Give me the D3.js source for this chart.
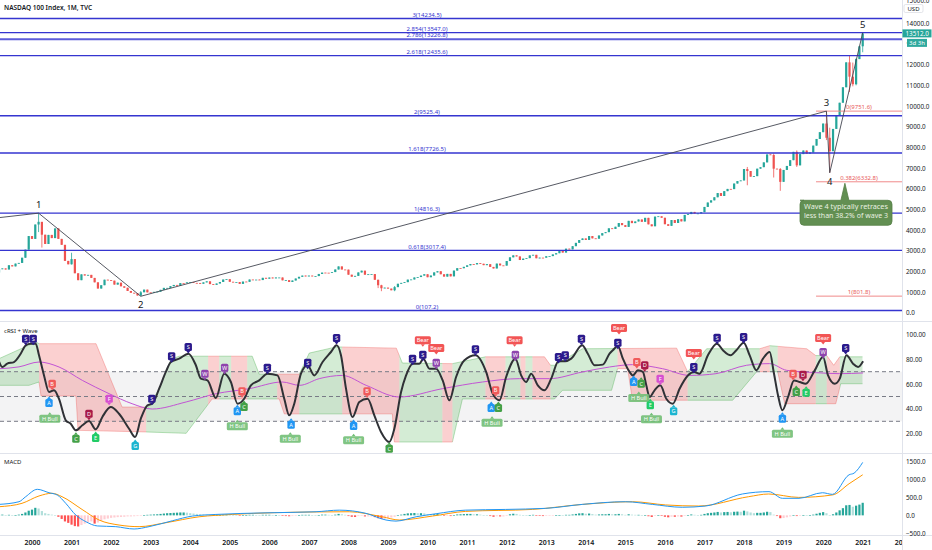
<!DOCTYPE html>
<html>
<head>
<meta charset="utf-8">
<script src="https://cdn.jsdelivr.net/npm/d3@7"></script>
<style>
  body { margin: 0; background: #fff; }
  svg { display: block; }
  text { font-family: "Noto Sans", sans-serif; }
</style>
</head>
<body>
<svg id="chart" width="932" height="550"></svg>
<script>
// monthly closes, Jan 1999 .. Jan 2021
const startYear = 1999;
const monthlyCloses = [
  2127, 1945, 2106, 2141, 2090, 2296, 2241, 2375, 2408, 2659, 3050, 3708,
  3570, 4266, 4397, 3773, 3324, 3763, 3609, 4077, 3571, 3283, 2506, 2341,
  2593, 1908, 1573, 1855, 1800, 1830, 1683, 1469, 1168, 1330, 1596, 1577,
  1550, 1359, 1452, 1277, 1208, 1051, 963, 942, 832, 989, 1116, 984,
  977, 1008, 1018, 1106, 1201, 1201, 1284, 1343, 1304, 1431, 1430, 1468,
  1476, 1442, 1438, 1400, 1467, 1517, 1383, 1347, 1412, 1486, 1605, 1621,
  1495, 1483, 1483, 1394, 1505, 1493, 1605, 1600, 1601, 1579, 1687, 1645,
  1701, 1661, 1703, 1703, 1566, 1575, 1487, 1557, 1654, 1736, 1795, 1756,
  1794, 1760, 1772, 1874, 1939, 1934, 1933, 1965, 2091, 2239, 2089, 2084,
  1838, 1742, 1781, 1948, 2033, 1838, 1860, 1869, 1592, 1329, 1183, 1212,
  1166, 1085, 1237, 1400, 1442, 1477, 1600, 1608, 1704, 1725, 1795, 1860,
  1716, 1798, 1950, 2006, 1860, 1746, 1877, 1758, 2037, 2154, 2151, 2218,
  2291, 2354, 2338, 2402, 2367, 2300, 2348, 2214, 2140, 2375, 2287, 2278,
  2500, 2679, 2774, 2722, 2549, 2616, 2640, 2772, 2800, 2634, 2663, 2661,
  2731, 2738, 2819, 2878, 2987, 2909, 3097, 3066, 3218, 3378, 3516, 3592,
  3521, 3708, 3596, 3580, 3736, 3849, 3896, 4082, 4049, 4158, 4337, 4236,
  4151, 4443, 4334, 4414, 4509, 4397, 4589, 4274, 4181, 4648, 4664, 4593,
  4280, 4202, 4483, 4341, 4523, 4418, 4730, 4771, 4875, 4801, 4803, 4864,
  5116, 5330, 5436, 5584, 5788, 5647, 5880, 5988, 5979, 6248, 6367, 6397,
  6950, 6854, 6581, 6606, 6967, 7040, 7272, 7656, 7628, 6967, 6949, 6330,
  6906, 7099, 7378, 7781, 7128, 7672, 7846, 7692, 7750, 8083, 8404, 8733,
  9150, 8462, 7813, 8890, 9555, 10157, 10906, 12111, 11418, 11052, 12268, 12888,
  13512
];

// months where a wick is visible
const wickMonths = ["2000-03", "2000-04", "2001-01", "2002-10", "2008-10", "2008-11", "2009-03",
  "2018-02", "2018-10", "2018-12", "2019-05", "2020-02", "2020-03", "2020-09", "2020-10", "2020-11", "2021-01"];
const wickHighs = [4816, 4300, 2900, 1050, 1600, 1350, 1290, 7050, 7700, 7000, 7850, 9736, 8950, 12466, 12100, 12300, 13540];
const wickLows  = [3900, 3150, 2330, 795, 1190, 1040, 1040, 6165, 6540, 5895, 7050, 8350, 6771, 10677, 10950, 11000, 12600];

const fibRatios = [3, 2.854, 2.786, 2.618, 2, 1.618, 1, 0.618, 0];
const fibPrices = [14234.5, 13547.0, 13226.8, 12435.6, 9525.4, 7726.5, 4816.3, 3017.4, 107.2];

const retraceRatios = [0, 0.382, 1];
const retracePrices = [9751.6, 6332.8, 801.8];
const retraceStart = 2019.82;

const waveTimes  = [1998.9, 2000.167, 2002.75, 2020.083, 2020.167, 2021.0];
const waveValues = [4540, 4816, 795, 9751.6, 6771, 13540];
const waveNames  = ["", "1", "2", "3", "4", "5"];

const priceTicks = d3.range(0, 16000, 1000);
const yearTicks = d3.range(2000, 2023);

// cRSI line [decimal year, value]
const crsi = [
  [1999.165, 78.4], [1999.248, 73.8], [1999.375, 76.5], [1999.545, 77.8], [1999.714, 84.5], [1999.841, 91.3],
  [1999.967, 92.6], [2000.094, 92.6], [2000.177, 83.2], [2000.304, 67], [2000.43, 53.6], [2000.557, 55],
  [2000.683, 48], [2000.853, 30.8], [2000.979, 28], [2001.106, 22.7], [2001.273, 26.8], [2001.442, 30.2],
  [2001.612, 23.5], [2001.779, 33.5], [2001.991, 41.5], [2002.201, 36.1], [2002.454, 24], [2002.606, 17.3],
  [2002.751, 32.1], [2002.918, 42.9], [2003.044, 44.2], [2003.214, 56.3], [2003.383, 69.8], [2003.51, 77.8],
  [2003.72, 80.5], [2003.955, 84.5], [2004.142, 75.2], [2004.269, 64.4], [2004.436, 63], [2004.648, 48.8],
  [2004.858, 68.4], [2005.028, 61.7], [2005.195, 44.2], [2005.364, 48.2], [2005.534, 59], [2005.744, 63],
  [2005.954, 68.4], [2006.207, 67], [2006.377, 48.2], [2006.503, 34.8], [2006.63, 44.2], [2006.799, 68.4],
  [2006.966, 75.2], [2007.136, 67], [2007.346, 77.8], [2007.558, 85.9], [2007.7, 91.3], [2007.811, 83.2],
  [2007.938, 56.3], [2008.105, 33.5], [2008.274, 45.6], [2008.484, 48.2], [2008.654, 34.8], [2008.823, 21.4],
  [2009.033, 13.3], [2009.16, 24], [2009.33, 53.6], [2009.456, 67], [2009.623, 76.5], [2009.792, 76.5],
  [2009.894, 80.5], [2010.046, 72.4], [2010.215, 72.4], [2010.382, 63], [2010.552, 46.9], [2010.721, 65.7],
  [2010.931, 79.2], [2011.21, 83.2], [2011.48, 69.8], [2011.647, 52.3], [2011.817, 46.9], [2011.986, 65.7],
  [2012.222, 80.5], [2012.366, 67], [2012.492, 61.7], [2012.619, 68.4], [2012.786, 59], [2012.955, 55],
  [2013.125, 64.4], [2013.31, 78.4], [2013.479, 78.4], [2013.631, 80.5], [2013.909, 91.3], [2014.051, 84.5],
  [2014.221, 75.2], [2014.431, 75.7], [2014.6, 84.5], [2014.684, 87.3], [2014.81, 90.7], [2014.937, 80.5],
  [2015.106, 69.8], [2015.19, 67], [2015.316, 71.1], [2015.443, 69.8], [2015.529, 59], [2015.613, 49.6],
  [2015.739, 55], [2015.883, 59], [2016.035, 48.2], [2016.202, 44.2], [2016.371, 56.3], [2016.581, 67],
  [2016.733, 69.8], [2016.877, 68.4], [2017.087, 83.2], [2017.315, 92.6], [2017.467, 87.3], [2017.662, 83.2],
  [2017.806, 87.3], [2017.991, 93.4], [2018.143, 83.2], [2018.312, 71.1], [2018.479, 80.5], [2018.649, 85.9],
  [2018.75, 69.8], [2018.859, 51], [2018.97, 38.9], [2019.112, 49.6], [2019.264, 63], [2019.408, 61.7],
  [2019.56, 60.3], [2019.788, 71.1], [2019.998, 81.9], [2020.124, 67], [2020.294, 60.3], [2020.42, 64.4],
  [2020.589, 83.2], [2020.756, 76.5], [2020.883, 73.8], [2021.01, 78.4]
];

// cRSI moving average
const crsiAvg = [
  [1999.165, 72.4], [1999.671, 73.9], [2000.177, 77.8], [2000.683, 73.8], [2001.273, 63], [2001.948, 52.3],
  [2002.53, 44.2], [2003.038, 39.9], [2003.897, 45.6], [2004.657, 52.3], [2005.491, 56.3], [2006.326, 61.7],
  [2006.763, 59], [2007.262, 64.4], [2007.844, 67], [2008.448, 59], [2009.286, 49.6], [2010.374, 56.3],
  [2011.387, 61.7], [2012.323, 64.4], [2013.083, 64.4], [2013.917, 69.8], [2014.601, 73.8], [2015.182, 75.7],
  [2015.943, 72.4], [2016.625, 67], [2017.29, 68.4], [2018.067, 75.2], [2018.649, 76.5], [2019.079, 71.1],
  [2019.838, 69.2], [2020.42, 68.4], [2021.01, 69]
];

// band edges and colour changes
const bandUpper = [
  [1999.165, 80.5], [2000.101, 94], [2000.177, 92.6], [2001.619, 92.6], [2002.277, 41.5], [2002.885, 41.5],
  [2002.91, 40], [2003.214, 56], [2003.517, 80], [2003.72, 82.5], [2005.567, 82.5], [2005.744, 68],
  [2006.756, 68], [2007.009, 85], [2007.692, 90], [2009.21, 89], [2009.362, 77], [2010.628, 76.5],
  [2011.463, 82], [2012.955, 82], [2013.107, 75.2], [2013.209, 75.2], [2013.917, 88.5], [2016.296, 89],
  [2016.574, 70], [2017.055, 88.5], [2018.396, 88.5], [2018.649, 91], [2019.585, 88.5], [2019.813, 83],
  [2020.091, 83], [2020.268, 75.2], [2020.42, 82], [2021.0, 82]
];
const bandLower = [
  [1999.165, 59], [1999.924, 59], [2000.177, 61.7], [2000.228, 50.4], [2001.113, 50.4], [2001.164, 22.7],
  [2002.885, 21.4], [2003.897, 20.3], [2004.555, 48], [2006.25, 48], [2006.377, 36], [2009.109, 36],
  [2009.16, 13.3], [2010.628, 13.3], [2010.881, 48], [2013.209, 48], [2013.411, 55], [2014.651, 55],
  [2014.803, 72.4], [2015.056, 72.4], [2015.182, 47], [2017.713, 47], [2018.32, 70], [2018.851, 70],
  [2019.028, 44.2], [2020.319, 44.2], [2020.445, 60.3], [2021.0, 60.3]
];
const bandStarts = [1999.165, 2000.177, 2002.885, 2004.453, 2004.732, 2005.035, 2005.44, 2006.199, 2006.756,
  2007.844, 2009.286, 2010.374, 2010.628, 2011.463, 2011.969, 2012.348, 2012.475, 2012.652, 2013.107,
  2014.803, 2016.574, 2018.396, 2018.649, 2018.851, 2019.813, 2020.091, 2020.42];
const bandEnd = 2021.0;
// first band is green, then they alternate
const bandColors = bandStarts.map((d, i) => i % 2 === 0 ? "up" : "down");

// cRSI signal labels [decimal year, value, text]
const crsiMarks = [
  [1999.84, 96.6, "S"], [2000.03, 96.6, "S"], [2000.51, 60.3, "B"], [2000.43, 44.8, "A"], [2000.45, 32.1, "H Bull"],
  [2001.11, 16, "C"], [2001.44, 36.1, "D"], [2001.61, 16.5, "E"], [2001.95, 48.2, "F"], [2002.61, 10.1, "G"],
  [2003.03, 48.2, "S"], [2003.53, 82.4, "S"], [2003.95, 89.9, "S"], [2004.37, 68.4, "W"], [2004.87, 73.2, "W"],
  [2005.31, 54.2, "B"], [2005.19, 38.1, "A"], [2005.36, 41.5, "C"], [2005.19, 26, "H Bull"], [2005.95, 73.2, "S"],
  [2006.55, 27.3, "A"], [2006.53, 16, "H Bull"], [2006.97, 77.3, "S"], [2007.70, 97.2, "S"], [2008.47, 54.2, "B"],
  [2008.13, 26.2, "A"], [2008.13, 14.7, "H Bull"], [2009.03, 7.9, "C"], [2009.62, 80.5, "S"], [2009.88, 83.7, "S"],
  [2009.88, 95.3, "Bear"], [2010.22, 77.3, "W"], [2010.22, 89.1, "Bear"], [2011.21, 88.1, "S"], [2011.72, 55, "B"],
  [2011.61, 40.7, "A"], [2011.79, 40.7, "C"], [2011.63, 28.9, "H Bull"], [2012.22, 83.7, "W"], [2012.20, 95.3, "Bear"],
  [2013.31, 81.9, "S"], [2013.48, 83.2, "S"], [2013.89, 96.6, "S"], [2014.81, 93.4, "S"], [2014.84, 105.2, "Bear"],
  [2015.29, 77.8, "B"], [2015.49, 75.2, "D"], [2015.21, 61.7, "A"], [2015.40, 60.3, "C"], [2015.34, 48.8, "H Bull"],
  [2015.63, 42.9, "E"], [2015.66, 31.6, "H Bull"], [2015.88, 64.4, "F"], [2016.22, 38.1, "G"], [2016.73, 73.8, "S"],
  [2016.73, 85.1, "Bear"], [2017.32, 97.4, "S"], [2017.99, 98, "S"], [2019.24, 68.4, "B"], [2019.49, 67.6, "D"],
  [2019.32, 53.6, "C"], [2019.57, 53.1, "E"], [2018.97, 32.1, "A"], [2018.97, 20, "H Bull"], [2020.0, 85.9, "W"],
  [2020.0, 97.2, "Bear"], [2020.57, 89.1, "S"]
];
const crsiLevels = [70, 50, 30];
const crsiTicks = [20, 40, 60, 80, 100];

// MACD
const macdLine = [
  [1999.165, 305], [1999.671, 380], [1999.841, 520], [2000.134, 725], [2000.43, 630], [2000.64, 565],
  [2000.853, 335], [2001.106, 10], [2001.359, -175], [2001.652, -295], [2002.118, -315], [2002.581, -380],
  [2002.96, -315], [2003.55, -150], [2004.056, -20], [2004.648, 25], [2005.913, 70], [2007.179, 100],
  [2007.768, 145], [2008.444, 55], [2008.95, -130], [2009.203, -160], [2009.709, -40], [2010.215, 45],
  [2010.956, 145], [2011.969, 165], [2012.981, 195], [2013.909, 305], [2015.005, 380], [2015.681, 305],
  [2016.44, 225], [2017.029, 260], [2017.958, 595], [2018.631, 660], [2018.97, 475], [2019.39, 475],
  [2019.982, 630], [2020.235, 585], [2020.655, 1130], [2020.781, 1175], [2021.0, 1475]
];
const signalLine = [
  [1999.165, 240], [1999.747, 335], [2000.177, 540], [2000.506, 615], [2000.759, 520], [2001.265, 165],
  [2001.695, -130], [2002.201, -270], [2002.707, -315], [2003.383, -205], [2004.226, -40], [2005.061, 25],
  [2007.186, 95], [2008.021, 100], [2008.856, -40], [2009.286, -130], [2010.121, -20], [2010.956, 110],
  [2012.652, 165], [2013.917, 305], [2015.182, 380], [2016.017, 290], [2016.852, 260], [2018.117, 520],
  [2018.623, 595], [2019.383, 500], [2020.243, 570], [2020.655, 880], [2021.0, 1130]
];
// monthly histogram, Jan 1999 .. Jan 2021
const macdHist = [
  10, 10, 15, 20, 10, 15, 10, 10, 20, 40, 80, 130,
  160, 210, 190, 120, 60, 40, 20, 10, -40, -100, -170, -210,
  -260, -300, -310, -270, -230, -200, -170, -230, -200, -150, -110, -90,
  -70, -60, -50, -45, -40, -30, -30, -25, -20, -10, 10, 15,
  20, 25, 30, 40, 50, 60, 65, 70, 75, 80, 80, 75,
  60, 50, 40, 30, 25, 20, 10, 5, 5, 10, 20, 25,
  15, 10, 5, -5, 5, 5, 15, 15, 10, 5, 15, 15,
  15, 10, 10, 5, -10, -20, -25, -20, -10, 5, 15, 15,
  15, 10, 5, 10, 20, 20, 15, 10, 20, 40, 30, 15,
  -20, -40, -45, -20, -10, -30, -30, -30, -50, -80, -100, -95,
  -80, -60, -40, 0, 20, 40, 55, 60, 65, 60, 60, 55,
  30, 20, 30, 35, 10, -15, -10, -20, 5, 25, 30, 35,
  40, 40, 30, 30, 20, 5, 0, -20, -40, -25, -30, -30,
  -5, 30, 45, 40, 15, 5, 0, 10, 15, -10, -15, -20,
  -15, -10, -5, 0, 10, 5, 15, 15, 25, 40, 55, 60,
  45, 50, 35, 20, 25, 30, 30, 40, 30, 30, 40, 30,
  15, 30, 20, 15, 15, 0, 10, -25, -45, -10, 0, -10,
  -40, -55, -35, -40, -30, -35, -5, 10, 25, 15, 10, 15,
  40, 60, 70, 80, 95, 80, 90, 95, 85, 100, 105, 100,
  130, 110, 80, 60, 70, 70, 80, 100, 90, 20, -20, -80,
  -75, -55, -30, 10, -20, -5, 10, 5, 5, 20, 45, 70,
  90, 60, 5, 30, 80, 140, 200, 280, 290, 240, 270, 300,
  350
];
const macdTicks = [-500, 0, 500, 1000, 1500];

const plotRight = 902;
const svg = d3.select("#chart");

const x = d3.scaleLinear().domain([2000, 2021]).range([32, 862.7]);
const yP = d3.scaleLinear().domain([0, 14000]).range([312.7, 23.3]);
const yR = d3.scaleLinear().domain([20, 100]).range([433.7, 334.5]);
const yM = d3.scaleLinear().domain([-500, 1500]).range([533.3, 461.5]);

const defs = svg.append("defs");
defs.append("clipPath").attr("id", "plot").append("rect")
    .attr("x", 0).attr("y", 0).attr("width", plotRight).attr("height", 550);
// the 13000 tick label shows only its first digit beside the countdown badge
defs.append("clipPath").attr("id", "under-badge").append("rect")
    .attr("x", 0).attr("y", -10).attr("width", 5).attr("height", 20);

// band colour clips
["up", "down"].forEach((kind) => {
    let cp = defs.append("clipPath").attr("id", "band-" + kind);
    bandStarts.forEach((t0, i) => {
        if (bandColors[i] !== kind) return;
        let t1 = i + 1 < bandStarts.length ? bandStarts[i + 1] : bandEnd;
        cp.append("rect").attr("x", x(t0)).attr("y", 322).attr("width", x(t1) - x(t0)).attr("height", 131);
    });
});

// pane separators
const sep = svg.append("g").attr("stroke", "#e0e3eb").attr("stroke-width", 1);
[321.5, 453.5, 535.5].forEach((yy) => {
    sep.append("line").attr("x1", 0).attr("x2", 932).attr("y1", yy).attr("y2", yy);
});
sep.append("line").attr("x1", plotRight + 0.5).attr("x2", plotRight + 0.5).attr("y1", 0).attr("y2", 550);

const plot = svg.append("g").attr("clip-path", "url(#plot)");

// ---------- price pane ----------
const candles = monthlyCloses.map((c, i) => {
    let year = startYear + Math.floor(i / 12);
    let month = i % 12;
    let key = year + "-" + String(month + 1).padStart(2, "0");
    let w = wickMonths.indexOf(key);
    let o = i ? monthlyCloses[i - 1] : c;
    return {
        t: year + month / 12, o, c,
        h: w >= 0 ? wickHighs[w] : Math.max(o, c),
        l: w >= 0 ? wickLows[w] : Math.min(o, c)
    };
});

const candleG = plot.append("g");
candleG.selectAll("line").data(candles).join("line")
    .attr("x1", (d) => x(d.t)).attr("x2", (d) => x(d.t))
    .attr("y1", (d) => yP(d.h)).attr("y2", (d) => yP(d.l))
    .attr("stroke", (d) => d.c >= d.o ? "#26a69a" : "#ef5350").attr("stroke-width", 0.8);
candleG.selectAll("rect").data(candles).join("rect")
    .attr("x", (d) => x(d.t) - 1.1).attr("width", 2.2)
    .attr("y", (d) => yP(Math.max(d.o, d.c)))
    .attr("height", (d) => Math.max(0.8, Math.abs(yP(d.o) - yP(d.c))))
    .attr("fill", (d) => d.c >= d.o ? "#26a69a" : "#ef5350");

// trend based fib extension
const fibG = plot.append("g");
fibPrices.forEach((p, i) => {
    fibG.append("line").attr("x1", 0).attr("x2", plotRight).attr("y1", yP(p)).attr("y2", yP(p))
        .attr("stroke", "#3535d0").attr("stroke-width", i === 2 ? 2 : 1.4).attr("stroke-opacity", i === 2 ? 0.8 : 1);
    fibG.append("text").attr("x", 427).attr("y", yP(p) - 1.8).attr("text-anchor", "middle")
        .attr("font-size", 6).attr("fill", "#3535d0")
        .text(fibRatios[i] + "(" + p.toFixed(1) + ")");
});

// fib retracement of wave 3
retracePrices.forEach((p, i) => {
    fibG.append("line").attr("x1", x(retraceStart)).attr("x2", plotRight).attr("y1", yP(p)).attr("y2", yP(p))
        .attr("stroke", "#f08a8a").attr("stroke-width", 1);
    fibG.append("text").attr("x", (x(retraceStart) + plotRight) / 2).attr("y", yP(p) - 1.8)
        .attr("text-anchor", "middle").attr("font-size", 6).attr("fill", "#e85a5a")
        .text(retraceRatios[i] + "(" + p.toFixed(1) + ")");
});

// elliott wave path
const wavePts = waveTimes.map((t, i) => [x(t), yP(waveValues[i])]);
plot.append("path").attr("d", d3.line()(wavePts))
    .attr("fill", "none").attr("stroke", "#434651").attr("stroke-width", 0.9);
waveNames.forEach((name, i) => {
    if (!name) return;
    let above = i % 2 === 1;
    plot.append("text").attr("x", wavePts[i][0]).attr("y", wavePts[i][1] + (above ? -5 : 12))
        .attr("text-anchor", "middle").attr("font-size", 9.5).attr("fill", "#131722").text(name);
});

// callout
const note = svg.append("g");
const noteApex = [x(2020.55), yP(retracePrices[1]) + 1.5];
note.append("path")
    .attr("d", `M800,${noteApex[1] + 17} h${noteApex[0] - 804} L${noteApex[0]},${noteApex[1]} L${noteApex[0] + 4},${noteApex[1] + 17} H888 a4,4 0 0 1 4,4 v17 a4,4 0 0 1 -4,4 H804 a4,4 0 0 1 -4,-4 v-17 a4,4 0 0 1 4,-4 Z`)
    .attr("fill", "#628f52").attr("stroke", "#557f46").attr("stroke-width", 0.8);
["Wave 4 typically retraces", "less than 38.2% of wave 3"].forEach((line, i) => {
    let t = note.append("text").attr("x", 846).attr("y", noteApex[1] + 25.5 + i * 9).attr("text-anchor", "middle")
        .attr("font-family", "Liberation Serif, serif").attr("font-size", 8.6).attr("fill", "#e9f1e1")
        .text(line);
    let len = t.node().getComputedTextLength();
    if (len > 84) t.attr("font-size", 8.6 * 84 / len);
});

// ---------- cRSI pane ----------
const rsiG = plot.append("g");
rsiG.append("rect").attr("x", 0).attr("width", plotRight)
    .attr("y", yR(70)).attr("height", yR(30) - yR(70)).attr("fill", "rgba(120,123,134,0.09)");

const bandPoly = bandUpper.concat(bandLower.slice().reverse()).map((d) => [x(d[0]), yR(d[1])]);
const edgeLine = d3.line().x((d) => x(d[0])).y((d) => yR(d[1]));
[["up", "rgba(76,175,80,0.24)", "rgba(76,175,80,0.55)"], ["down", "rgba(239,83,80,0.27)", "rgba(239,83,80,0.5)"]]
    .forEach(([kind, fill, edge]) => {
        let g = rsiG.append("g").attr("clip-path", "url(#band-" + kind + ")");
        g.append("path").attr("d", d3.line()(bandPoly) + "Z").attr("fill", fill);
        g.append("path").attr("d", edgeLine(bandUpper)).attr("fill", "none").attr("stroke", edge).attr("stroke-width", 0.7);
        g.append("path").attr("d", edgeLine(bandLower)).attr("fill", "none").attr("stroke", edge).attr("stroke-width", 0.7);
    });

crsiLevels.forEach((lv) => {
    rsiG.append("line").attr("x1", 0).attr("x2", plotRight).attr("y1", yR(lv)).attr("y2", yR(lv))
        .attr("stroke", "#787b86").attr("stroke-width", 1).attr("stroke-dasharray", "4,3");
});

rsiG.append("path").attr("d", d3.line().x((d) => x(d[0])).y((d) => yR(d[1])).curve(d3.curveMonotoneX)(crsiAvg))
    .attr("fill", "none").attr("stroke", "#c254d4").attr("stroke-width", 1);
rsiG.append("path").attr("d", d3.line().x((d) => x(d[0])).y((d) => yR(d[1])).curve(d3.curveMonotoneX)(crsi))
    .attr("fill", "none").attr("stroke", "#2f3136").attr("stroke-width", 2);

const markColor = {
    "S": "#2b1a8c", "A": "#2196f3", "B": "#f05a5a", "C": "#43a047", "D": "#a81a48", "E": "#22cc66",
    "F": "#d64fd0", "G": "#1cb5d0", "W": "#8e44ad", "Bear": "#f25555", "H Bull": "#72bf76"
};
const pointsUp = ["A", "C", "E", "G", "H Bull"];
const markG = plot.append("g");
crsiMarks.forEach(([t, v, label]) => {
    let cx = x(t), cy = yR(v);
    let w = label.length === 1 ? 7.4 : (label === "Bear" ? 16 : 21);
    let h = 8;
    let up = pointsUp.indexOf(label) >= 0;
    let col = markColor[label];
    let g = markG.append("g");
    let tip = up ? `M${cx - 2},${cy - h / 2} L${cx},${cy - h / 2 - 2.5} L${cx + 2},${cy - h / 2} Z`
                 : `M${cx - 2},${cy + h / 2} L${cx},${cy + h / 2 + 2.5} L${cx + 2},${cy + h / 2} Z`;
    g.append("path").attr("d", tip).attr("fill", col);
    g.append("rect").attr("x", cx - w / 2).attr("y", cy - h / 2).attr("width", w).attr("height", h)
        .attr("rx", 1.5).attr("fill", col).attr("fill-opacity", label === "H Bull" ? 0.9 : 1);
    g.append("text").attr("x", cx).attr("y", cy + 2.1).attr("text-anchor", "middle")
        .attr("font-size", 5.6).attr("fill", "#fff").text(label);
});

// ---------- MACD pane ----------
const macdG = plot.append("g");
macdG.selectAll("rect").data(macdHist).join("rect")
    .attr("x", (d, i) => x(startYear + i / 12) - 1.1).attr("width", 2.2)
    .attr("y", (d) => yM(Math.max(0, d)))
    .attr("height", (d) => Math.max(0.6, Math.abs(yM(d) - yM(0))))
    .attr("fill", (d, i) => {
        let p = i ? macdHist[i - 1] : d;
        return d >= 0 ? (d >= p ? "#26a69a" : "#b2dfdb") : (d < p ? "#ff5252" : "#ffcdd2");
    });
const mLine = d3.line().x((d) => x(d[0])).y((d) => yM(d[1])).curve(d3.curveMonotoneX);
macdG.append("path").attr("d", mLine(signalLine)).attr("fill", "none").attr("stroke", "#ff9800").attr("stroke-width", 1);
macdG.append("path").attr("d", mLine(macdLine)).attr("fill", "none").attr("stroke", "#2196f3").attr("stroke-width", 1);

// ---------- axes ----------
function styleAxis(g, size) {
    g.select(".domain").remove();
    g.selectAll("text").attr("font-size", size).attr("fill", "#131722").attr("font-family", "Noto Sans, sans-serif");
}
const lastClose = monthlyCloses[monthlyCloses.length - 1];
const priceAxis = svg.append("g").attr("transform", `translate(${plotRight},0)`)
    .call(d3.axisRight(yP).tickValues(priceTicks).tickFormat(d3.format(".1f")).tickSize(0).tickPadding(4))
    .call((g) => styleAxis(g, 6.3));
// 15000 sits at the top edge, half cut as on screen
priceAxis.selectAll(".tick").filter((d) => d === 15000).select("text").attr("dy", "0.05em");
priceAxis.selectAll(".tick").filter((d) => d === 13000).select("text").attr("clip-path", "url(#under-badge)");
svg.append("g").attr("transform", `translate(${plotRight},0)`)
    .call(d3.axisRight(yR).tickValues(crsiTicks).tickFormat(d3.format(".2f")).tickSize(0).tickPadding(4))
    .call((g) => styleAxis(g, 6.3));
svg.append("g").attr("transform", `translate(${plotRight},0)`)
    .call(d3.axisRight(yM).tickValues(macdTicks).tickFormat(d3.format(".1f")).tickSize(0).tickPadding(4))
    .call((g) => styleAxis(g, 6.3));
svg.append("g").attr("transform", "translate(0,536)").attr("clip-path", "url(#plot)")
    .call(d3.axisBottom(x).tickValues(yearTicks).tickFormat(d3.format("d")).tickSize(0).tickPadding(4))
    .call((g) => { styleAxis(g, 7); g.selectAll("text").attr("font-weight", 600); });

// currency, price and countdown badges
svg.append("rect").attr("x", 904).attr("y", 4.5).attr("width", 19).attr("height", 8)
    .attr("fill", "#fff").attr("stroke", "#d1d4dc").attr("stroke-width", 0.6).attr("rx", 1.5);
svg.append("text").attr("x", 913.5).attr("y", 10.7).attr("text-anchor", "middle").attr("font-size", 6)
    .attr("fill", "#131722").text("USD");
svg.append("rect").attr("x", plotRight + 0.5).attr("y", yP(lastClose) - 4).attr("width", 29).attr("height", 8)
    .attr("fill", "#26a69a");
svg.append("text").attr("x", 905.5).attr("y", yP(lastClose) + 2.2).attr("font-size", 6.3).attr("fill", "#fff")
    .text(d3.format(".1f")(lastClose));
svg.append("rect").attr("x", 907).attr("y", yP(lastClose) + 5.5).attr("width", 20).attr("height", 8)
    .attr("fill", "#2fa99e");
svg.append("text").attr("x", 917).attr("y", yP(lastClose) + 11.7).attr("text-anchor", "middle")
    .attr("font-size", 6).attr("fill", "#fff").text("3d 3h");

// pane titles
svg.append("text").attr("x", 4).attr("y", 10).attr("font-size", 6.5).attr("font-weight", 600)
    .attr("fill", "#131722").text("NASDAQ 100 Index, 1M, TVC");
svg.append("text").attr("x", 4).attr("y", 333).attr("font-size", 6).attr("fill", "#131722").text("cRSI + Wave");
svg.append("text").attr("x", 4).attr("y", 464).attr("font-size", 6).attr("fill", "#131722").text("MACD");
</script>
</body>
</html>
